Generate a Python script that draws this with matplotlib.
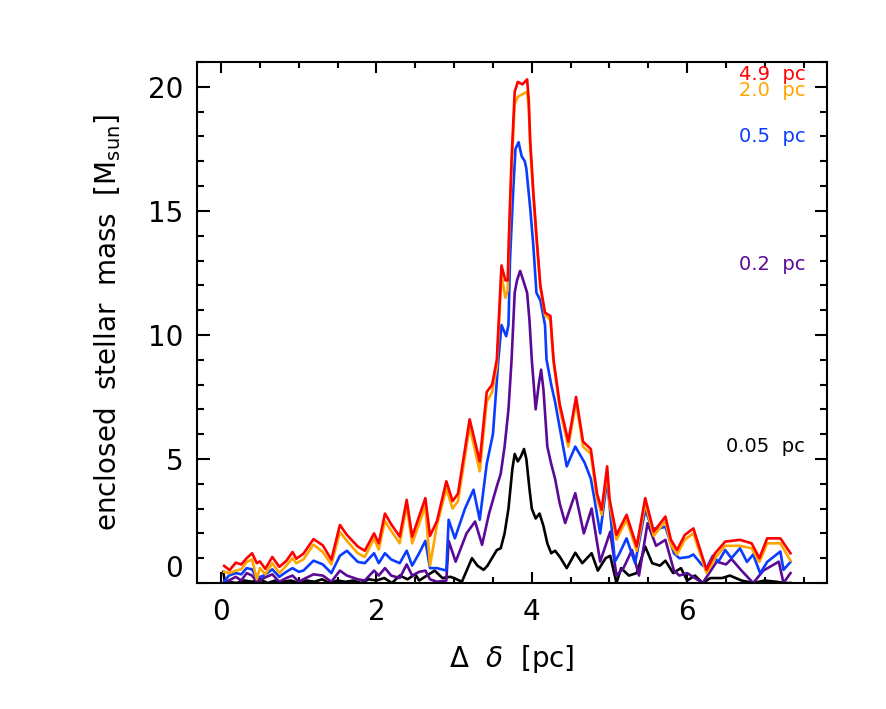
import matplotlib
matplotlib.use("Agg")
import matplotlib.pyplot as plt
from matplotlib.ticker import MultipleLocator

# 4.9 pc aperture (red) and 2.0 pc aperture (orange) share x positions
x_big = [0.04, 0.11, 0.19, 0.26, 0.33, 0.40, 0.46, 0.50, 0.57, 0.66,
         0.75, 0.84, 0.92, 0.97, 1.06, 1.19, 1.31, 1.42, 1.53, 1.62,
         1.76, 1.85, 1.97, 2.03, 2.11, 2.19, 2.30, 2.39, 2.46, 2.63,
         2.69, 2.78, 2.90, 2.98, 3.05, 3.20, 3.33, 3.42, 3.49, 3.55,
         3.61, 3.66, 3.69, 3.71, 3.74, 3.78, 3.82, 3.88, 3.94, 3.96,
         3.98, 4.02, 4.06, 4.11, 4.17, 4.24, 4.28, 4.36, 4.47, 4.57,
         4.66, 4.76, 4.84, 4.90, 4.97, 5.00, 5.09, 5.22, 5.35, 5.46,
         5.57, 5.72, 5.79, 5.87, 5.97, 6.08, 6.25, 6.36, 6.49, 6.68,
         6.83, 6.93, 7.03, 7.20, 7.33]
mass_49 = [0.69, 0.52, 0.82, 0.75, 1.0, 1.2, 0.8, 0.87, 0.57, 1.05,
           0.65, 0.89, 1.25, 0.98, 1.18, 1.77, 1.52, 0.94, 2.34, 1.94,
           1.47, 1.3, 2.0, 1.6, 2.8, 2.37, 1.87, 3.35, 1.87, 3.42,
           1.9, 2.5, 4.1, 3.3, 3.6, 6.6, 4.9, 7.7, 8.0, 9.0,
           12.8, 12.2, 12.2, 14.4, 17.1, 19.8, 20.2, 20.1, 20.3, 19.5,
           17.8, 15.75, 14.0, 12.0, 10.9, 10.76, 9.0, 7.2, 5.7, 7.5,
           5.7, 5.4, 3.6, 2.95, 4.7, 3.4, 1.94, 2.75, 1.47, 3.42,
           2.07, 2.68, 1.75, 1.33, 1.94, 2.2, 0.53, 1.2, 1.67, 1.74,
           1.6, 1.0, 1.8, 1.8, 1.2]
mass_20 = [0.45, 0.4, 0.5, 0.55, 0.85, 0.95, 0.15, 0.6, 0.35, 0.8,
           0.4, 0.7, 1.0, 0.8, 0.95, 1.55, 1.25, 0.75, 2.05, 1.7,
           1.2, 1.05, 1.8, 1.35, 2.5, 2.1, 1.6, 3.1, 1.6, 3.1,
           0.7, 2.35, 3.8, 3.0, 3.3, 6.3, 4.5, 7.3, 7.7, 8.7,
           12.4, 11.5, 11.8, 14.0, 16.7, 19.3, 19.6, 19.7, 19.8, 19.2,
           17.6, 15.6, 13.9, 11.9, 10.8, 10.6, 8.9, 7.0, 5.5, 7.3,
           5.5, 5.2, 3.4, 2.75, 4.5, 3.2, 1.75, 2.55, 1.3, 3.2,
           1.9, 2.5, 1.55, 1.15, 1.75, 2.0, 0.4, 1.0, 1.5, 1.5,
           1.4, 0.85, 1.6, 1.6, 0.9]

# 0.5 pc aperture (blue)
x_05 = [0.04, 0.10, 0.19, 0.26, 0.33, 0.40, 0.46, 0.55, 0.66, 0.75,
        0.84, 0.92, 1.00, 1.06, 1.19, 1.31, 1.42, 1.53, 1.62, 1.76,
        1.85, 1.97, 2.03, 2.11, 2.19, 2.30, 2.39, 2.46, 2.55, 2.63,
        2.69, 2.78, 2.90, 2.93, 3.01, 3.14, 3.25, 3.33, 3.42, 3.50,
        3.57, 3.61, 3.67, 3.70, 3.72, 3.76, 3.79, 3.83, 3.87, 3.91,
        3.93, 3.98, 4.02, 4.06, 4.11, 4.17, 4.19, 4.25, 4.30, 4.36,
        4.45, 4.56, 4.68, 4.76, 4.80, 4.88, 4.97, 5.07, 5.13, 5.22,
        5.33, 5.46, 5.55, 5.64, 5.72, 5.83, 5.90, 6.02, 6.08, 6.19,
        6.25, 6.33, 6.40, 6.49, 6.57, 6.68, 6.77, 6.85, 6.94, 7.03,
        7.20, 7.24, 7.33]
mass_05 = [0.05, 0.3, 0.4, 0.35, 0.6, 0.55, 0.2, 0.3, 0.55, 0.25,
           0.45, 0.6, 0.45, 0.5, 0.9, 0.75, 0.4, 1.1, 1.3, 0.85,
           0.8, 1.2, 0.8, 1.2, 0.95, 0.8, 1.3, 0.7, 1.2, 1.7,
           0.6, 0.6, 0.5, 2.55, 1.8, 3.0, 3.76, 2.55, 4.8, 6.0,
           9.0, 10.4, 9.95, 10.4, 13.05, 15.75, 17.5, 17.77, 17.2, 17.0,
           16.7, 15.1, 13.6, 11.7, 11.4, 10.4, 9.0, 8.0, 7.3, 6.25,
           4.7, 5.5, 4.85, 4.2, 3.5, 2.0, 4.16, 0.86, 1.2, 1.8,
           0.8, 2.95, 2.2, 2.2, 2.27, 1.2, 1.0, 1.05, 1.15, 0.73,
           0.6, 1.1, 0.85, 1.33, 1.0, 1.4, 0.85, 1.15, 0.39, 0.85,
           1.27, 0.53, 0.85]

# 0.2 pc aperture (purple)
x_02 = [0.04, 0.10, 0.19, 0.26, 0.33, 0.40, 0.46, 0.55, 0.66, 0.75,
        0.84, 0.92, 1.00, 1.06, 1.19, 1.31, 1.42, 1.53, 1.62, 1.76,
        1.85, 1.97, 2.03, 2.11, 2.19, 2.30, 2.39, 2.46, 2.55, 2.63,
        2.69, 2.78, 2.90, 2.93, 3.02, 3.16, 3.27, 3.36, 3.45, 3.55,
        3.60, 3.65, 3.70, 3.74, 3.76, 3.78, 3.81, 3.85, 3.89, 3.94,
        3.97, 4.00, 4.05, 4.09, 4.12, 4.15, 4.20, 4.25, 4.30, 4.36,
        4.43, 4.56, 4.67, 4.77, 4.88, 5.01, 5.09, 5.18, 5.29, 5.38,
        5.49, 5.60, 5.72, 5.83, 5.90, 6.00, 6.10, 6.20, 6.38, 6.50,
        6.57, 6.70, 6.85, 6.98, 7.18, 7.24, 7.33]
mass_02 = [0.0, 0.1, 0.25, 0.1, 0.4, 0.3, 0.05, 0.2, 0.35, 0.05,
           0.2, 0.3, 0.05, 0.15, 0.35, 0.3, 0.05, 0.5, 0.3, 0.15,
           0.1, 0.5, 0.3, 0.6, 0.3, 0.2, 0.75, 0.3, 0.45, 0.5,
           0.15, 0.05, 0.1, 1.7, 0.86, 2.0, 2.48, 1.54, 2.8, 3.9,
           4.4, 5.5, 7.0, 9.0, 10.35, 11.7, 12.2, 12.58, 12.2, 11.7,
           10.6, 9.0, 7.0, 8.0, 8.6, 7.8, 5.5, 4.8, 4.2, 3.2,
           2.42, 3.62, 2.0, 3.0, 0.86, 2.07, 0.3, 0.6, 1.33, 0.3,
           2.41, 1.5, 1.74, 0.5, 0.3, 0.4, 0.2, 0.0, 0.86, 0.75,
           0.97, 0.5, 0.0, 0.5, 0.86, 0.0, 0.4]

# 0.05 pc aperture (black)
x_005 = [0.03, 0.05, 0.10, 0.20, 0.30, 0.40, 0.50, 0.60, 0.70, 0.80,
         0.90, 1.00, 1.10, 1.20, 1.30, 1.40, 1.50, 1.60, 1.70, 1.80,
         1.90, 2.00, 2.10, 2.20, 2.30, 2.40, 2.50, 2.55, 2.65, 2.75,
         2.85, 2.95, 3.00, 3.10, 3.23, 3.30, 3.38, 3.43, 3.55, 3.60,
         3.65, 3.70, 3.75, 3.78, 3.82, 3.86, 3.90, 3.93, 3.97, 4.00,
         4.05, 4.10, 4.15, 4.20, 4.25, 4.30, 4.36, 4.45, 4.56, 4.65,
         4.77, 4.85, 4.95, 5.01, 5.09, 5.15, 5.25, 5.35, 5.46, 5.55,
         5.65, 5.72, 5.82, 5.92, 6.00, 6.10, 6.20, 6.30, 6.45, 6.55,
         6.70, 6.85, 7.00, 7.15, 7.25, 7.33]
mass_005 = [0.45, 0.0, 0.05, 0.0, 0.1, 0.05, 0.15, 0.0, 0.1, 0.05,
            0.1, 0.0, 0.1, 0.05, 0.15, 0.0, 0.1, 0.05, 0.1, 0.0,
            0.15, 0.1, 0.2, 0.0, 0.3, 0.15, 0.35, 0.1, 0.3, 0.5,
            0.2, 0.25, 0.2, 0.05, 1.0, 0.7, 0.53, 0.7, 1.33, 1.4,
            2.0, 3.0, 4.6, 5.2, 4.9, 5.1, 5.4, 5.0, 3.8, 3.0,
            2.6, 2.8, 2.3, 1.6, 1.2, 1.3, 1.06, 0.6, 1.22, 0.8,
            1.2, 0.5, 1.0, 1.1, 0.0, 0.6, 0.3, 0.4, 1.47, 0.8,
            0.7, 0.9, 0.4, 0.6, 0.1, 0.3, 0.0, 0.2, 0.2, 0.3,
            0.1, 0.0, 0.1, 0.05, 0.0, 0.0]

names = ["0.05  pc", "0.2  pc", "0.5  pc", "2.0  pc", "4.9  pc"]
colors = ["black", "#5a0a96", "#0a3cff", "#ffa500", "#ff0000"]
label_y = [5.5, 12.85, 18.0, 19.85, 20.5]

fig = plt.figure(figsize=(8.86, 7.09), dpi=100)
ax = fig.add_axes([0.2223, 0.1777, 0.7111, 0.7348])

curves = [(x_005, mass_005), (x_02, mass_02), (x_05, mass_05),
          (x_big, mass_20), (x_big, mass_49)]
for (xs, ys), c in zip(curves, colors):
    ax.plot(xs, ys, color=c, lw=1.9)

for name, c, ly in zip(names, colors, label_y):
    ax.text(7.52, ly, name, color=c, fontsize=14, ha="right", va="center")

ax.set_xlim(-0.31, 7.8)
ax.set_ylim(0, 21)
ax.set_xticks([0, 2, 4, 6])
ax.set_yticks([0, 5, 10, 15, 20])
ax.xaxis.set_minor_locator(MultipleLocator(0.5))
ax.yaxis.set_minor_locator(MultipleLocator(1))
ax.tick_params(which="both", direction="in", top=True, right=True,
               width=1.5, labelsize=20)
ax.tick_params(axis="y", which="major", length=9, pad=10)
ax.tick_params(axis="y", which="minor", length=5)
ax.tick_params(axis="x", which="major", length=8, pad=11)
ax.tick_params(axis="x", which="minor", length=4)
for s in ax.spines.values():
    s.set_linewidth(1.5)
# the zero label sits just above the bottom axis, as in the original
ax.get_yticklabels()[0].set_verticalalignment("bottom")

ax.set_xlabel(r"$\Delta$  $\delta$  [pc]", fontsize=20, labelpad=12)
ax.set_ylabel(r"enclosed  stellar  mass  [M$_{\rm sun}$]", fontsize=20, labelpad=18)

fig.savefig("out.png", dpi=100)
